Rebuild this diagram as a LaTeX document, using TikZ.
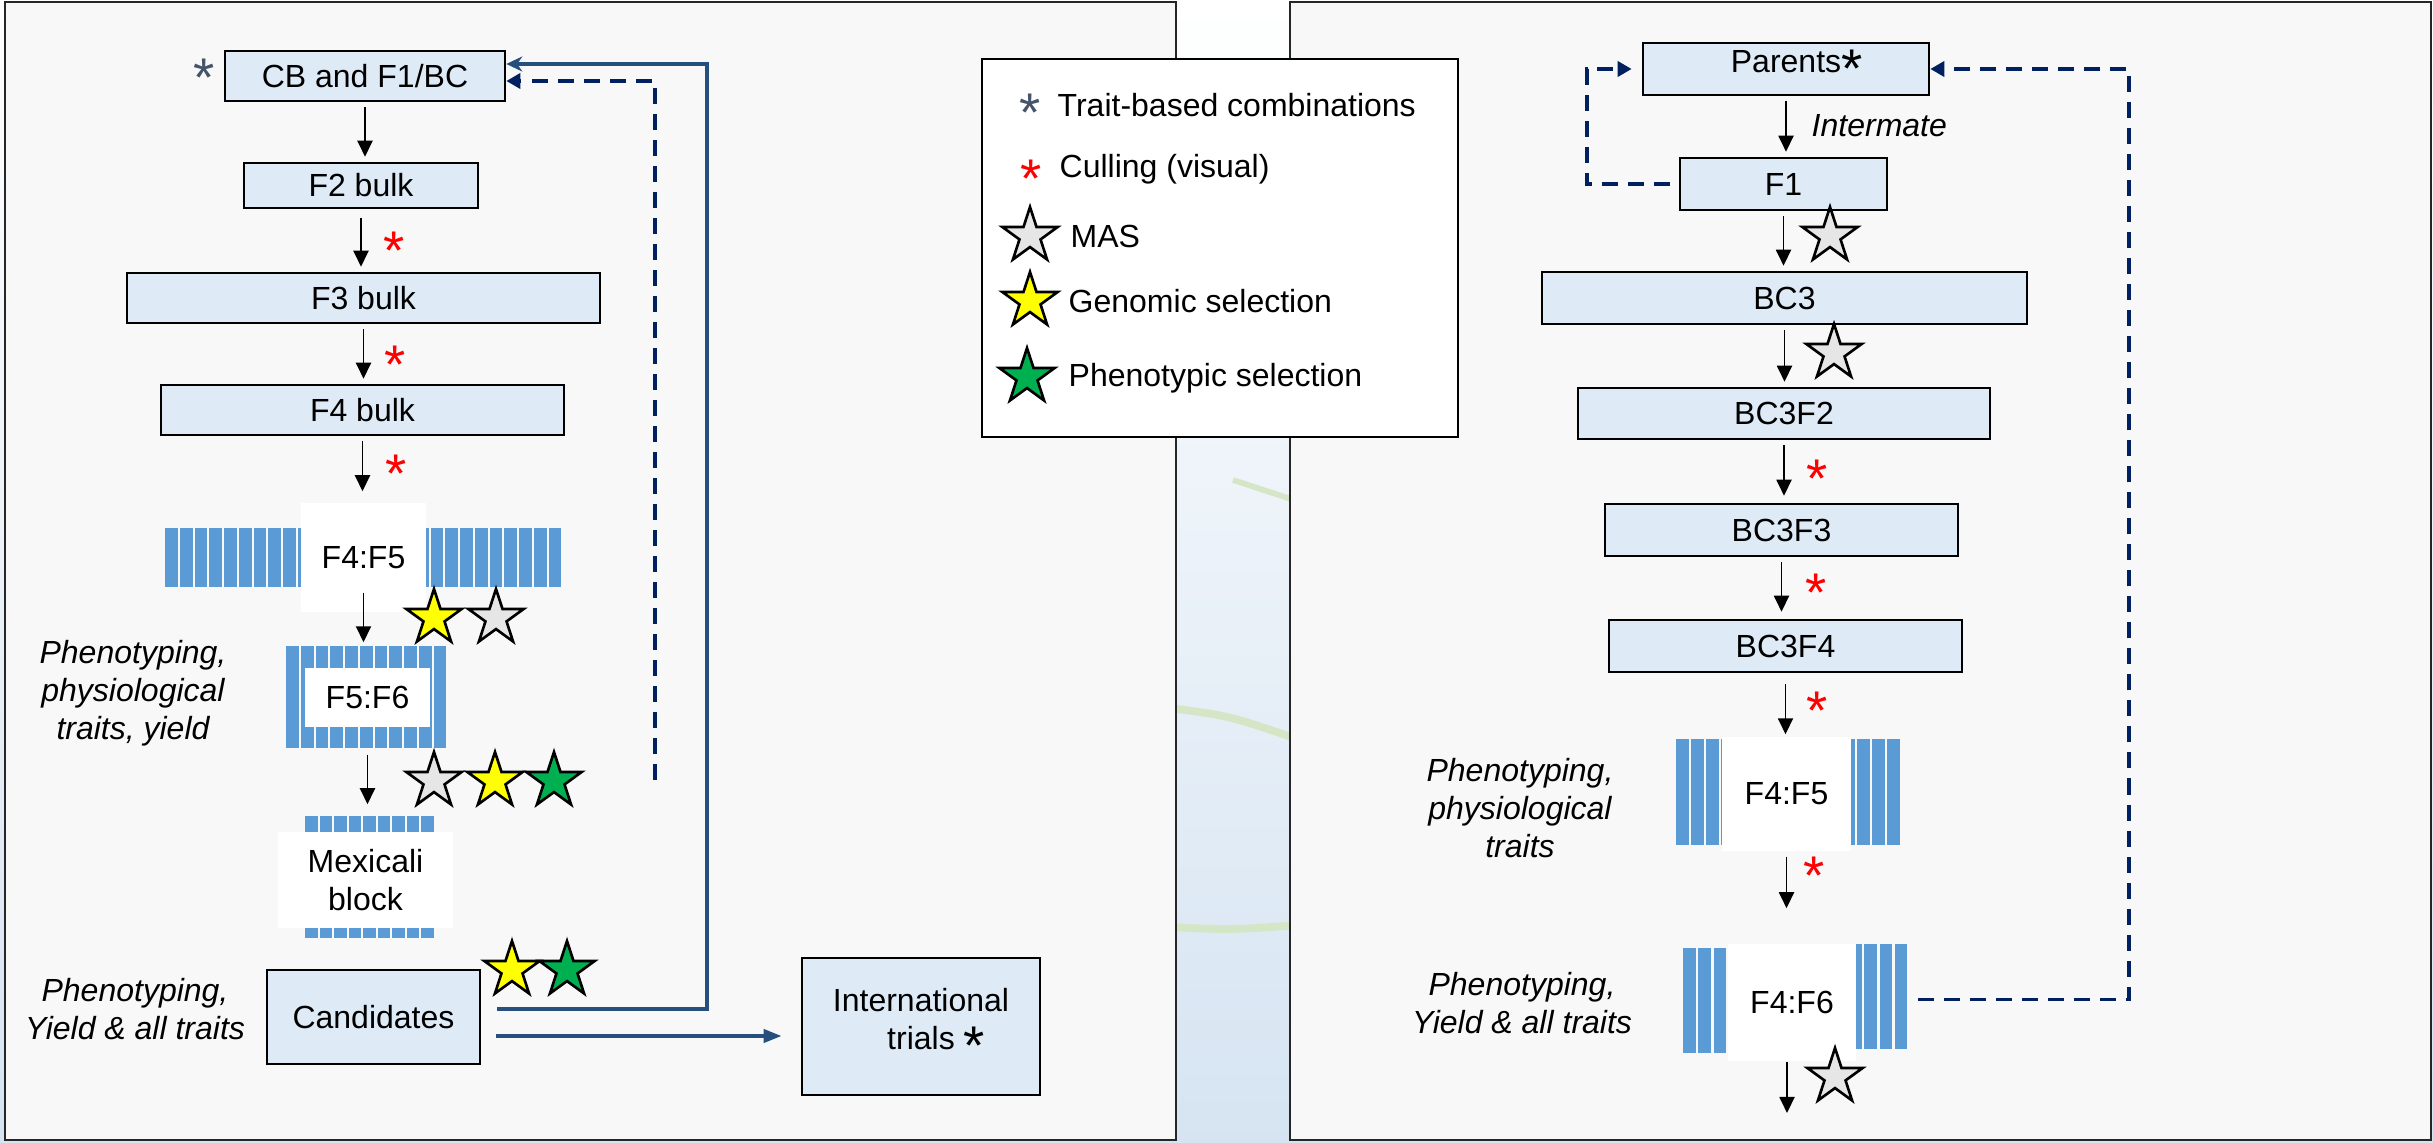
\documentclass[tikz,border=0pt]{standalone}
\usepackage{fontspec}
\setmainfont{Liberation Sans}
\usetikzlibrary{arrows.meta,shapes.geometric}

\definecolor{boxblue}{RGB}{222,235,247}
\definecolor{barblue}{RGB}{91,155,213}
\definecolor{navyfb}{RGB}{0,32,96}
\definecolor{steelfb}{RGB}{37,80,126}
\definecolor{panelbg}{RGB}{248,248,248}
\definecolor{slateast}{RGB}{68,84,106}
\definecolor{masgray}{RGB}{231,230,230}
\definecolor{gsyellow}{RGB}{255,255,0}
\definecolor{psgreen}{RGB}{0,176,80}
\definecolor{grass}{RGB}{212,230,198}
\definecolor{skylow}{RGB}{214,228,242}

\newcommand{\lblfont}{\fontsize{9.1}{10.8}\selectfont}
\newcommand{\astfont}{\fontsize{15.5}{15.5}\selectfont}
\newcommand{\bigast}{\raisebox{-0.15cm}{\astfont *}}

\tikzset{
  gbox/.style={draw=black, line width=0.7pt, fill=boxblue, font=\lblfont, inner sep=0pt, minimum height=0.52cm},
  wbox/.style={fill=white, font=\lblfont, inner sep=0pt, align=center},
  note/.style={font=\lblfont\itshape, align=center, inner sep=0pt},
  legtxt/.style={font=\lblfont, anchor=base west, inner sep=0pt},
  arr/.style={-{Triangle[length=0.16cm,width=0.15cm]}, line width=0.55pt, shorten <=0.05cm, shorten >=0.05cm},
  dfb/.style={navyfb, line width=1.1pt, dash pattern=on 0.16cm off 0.1cm, -{Triangle[length=0.14cm,width=0.15cm]}},
  sfb/.style={steelfb, line width=1.1pt},
  bar/.style={fill=barblue},
  panel/.style={fill=panelbg, draw=black!85, line width=0.7pt},
  cull/.style={text=red, font=\astfont, inner sep=0pt, text height=0.72em, text depth=0pt, yshift=-0.135cm},
  trait/.style={cull, text=slateast},
  selstar/.style={star, star points=5, star point ratio=2.618, draw=black, line width=0.75pt, inner sep=0pt, minimum size=0.58cm},
  mas/.style={selstar, fill=masgray},
  gs/.style={selstar, fill=gsyellow},
  ps/.style={selstar, fill=psgreen},
}

\begin{document}
\begin{tikzpicture}[x=0.01cm, y=-0.01cm]
  \useasboundingbox (0,0) rectangle (2433,1143);
  \fill[top color=white, bottom color=skylow] (0,0) rectangle (2433,1143);
  \draw[grass, line width=1.6pt] (1233,480) -- (1300,502);
  \draw[grass, line width=2.2pt] (1170,708) .. controls (1230,716) .. (1300,740);
  \draw[grass, line width=2.2pt] (1170,927) .. controls (1230,930) .. (1300,925);

  % the two schemes
  \draw[panel] (5,2) rectangle (1176,1140);
  \draw[panel] (1290,2) rectangle (2431,1140);

  % ---- left: bulk scheme
  \node[gbox, minimum width=2.8cm, minimum height=0.5cm] (cb) at (365,76) {CB and F1/BC};
  \node[trait] (cbast) at (204,70) {*};
  \node[gbox, minimum width=2.34cm, minimum height=0.45cm] (f2) at (361,185.5) {F2 bulk};
  \node[gbox, minimum width=4.73cm, minimum height=0.5cm] (f3) at (363.5,298) {F3 bulk};
  \node[gbox, minimum width=4.03cm, minimum height=0.5cm] (f4) at (362.5,410) {F4 bulk};

  \foreach \i in {0,...,26}
    \fill[bar] ({165+14.75*\i},528) rectangle ++(12.8,59);
  \node[wbox, minimum width=1.25cm, minimum height=1.09cm] (f45) at (363.5,557.5) {F4:F5};
  \foreach \i in {0,...,10}
    \fill[bar] ({286+14.75*\i},646) rectangle ++(12.8,102);
  \node[wbox, minimum width=1.25cm, minimum height=0.59cm] (f56) at (367.5,697.5) {F5:F6};
  \foreach \i in {0,...,8}
    \fill[bar] ({305+14.5*\i},816) rectangle ++(12.5,122);
  \node[wbox, minimum width=1.75cm, minimum height=0.96cm] (mex) at (365.5,880) {Mexicali\\block};
  \node[gbox, minimum width=2.13cm, minimum height=0.94cm] (cand) at (373.5,1017) {Candidates};
  \node[gbox, minimum width=2.38cm, minimum height=1.37cm, align=center] (intl) at (921,1026.5) {International\\trials\rlap{ \bigast}};

  \node[note] (phys1) at (133,693) {Phenotyping,\\physiological\\traits, yield};
  \node[note] (yld1) at (135,1009) {Phenotyping,\\Yield \& all traits};

  \draw[arr] (cb.south) -- (cb.south |- f2.north);
  \draw[arr, shorten <=0.09cm] (f2.south) -- (f2.south |- f3.north);
  \draw[arr] (f3.south) -- (f3.south |- f4.north);
  \draw[arr, shorten >=0.11cm] (f4.south) -- (f4.south |- f45.north);
  \draw[arr, shorten <=-0.2cm, shorten >=0.25cm] (f45.south) -- (f45.south |- f56.north);
  \draw[arr, shorten <=0.27cm, shorten >=0.27cm] (f56.south) -- (f56.south |- mex.north);

  \node[cull] (c1) at (394,243) {*};
  \node[cull] (c2) at (395,357) {*};
  \node[cull] (c3) at (396,466) {*};

  \node[gs] (s1) at (434,618) {};
  \node[mas] (s2) at (496,618) {};
  \node[mas] (s3) at (434,781) {};
  \node[gs] (s4) at (495,781) {};
  \node[ps] (s5) at (554,781) {};
  \node[gs] (s6) at (512,970) {};
  \node[ps] (s7) at (567,970) {};

  % recycling and release
  \coordinate (fbtop) at (707,64);
  \draw[sfb, -{Stealth[length=0.16cm,width=0.15cm]}] ([shift={(16,-8)}]cand.east) -| (fbtop) -- (fbtop -| cb.east);
  \coordinate (ia) at ([shift={(15,19)}]cand.east);
  \draw[sfb, -{Triangle[length=0.18cm,width=0.13cm]}, shorten >=0.19cm] (ia) -- (ia -| intl.west);
  \coordinate (dl) at (655,780);
  \draw[dfb] (dl) |- ([yshift=-0.05cm]cb.east);

  % ---- right: backcross scheme
  \node[gbox, minimum width=2.86cm] (par) at (1786,69) {Parents\rlap{\bigast}};
  \node[gbox, minimum width=2.07cm] (f1) at (1783.5,184) {F1};
  \node[gbox, minimum width=4.85cm] (bc3) at (1784.5,298) {BC3};
  \node[gbox, minimum width=4.12cm, minimum height=0.51cm] (bc3f2) at (1784,413.5) {BC3F2};
  \node[gbox, minimum width=3.53cm] (bc3f3) at (1781.5,530) {BC3F3};
  \node[gbox, minimum width=3.53cm] (bc3f4) at (1785.5,646) {BC3F4};

  \foreach \i in {0,...,14}
    \fill[bar] ({1676+15.07*\i},739) rectangle ++(13,106);
  \node[wbox, minimum width=1.29cm, minimum height=1.14cm] (rf45) at (1786.5,794) {F4:F5};
  \foreach \i in {0,...,3} {
    \fill[bar] ({1683+15.3*\i},948) rectangle ++(12.5,105);
    \fill[bar] ({1849+15.3*\i},944) rectangle ++(12.5,105);
  }
  \node[wbox, minimum width=1.28cm, minimum height=1.17cm] (rf46) at (1792,1002.5) {F4:F6};
  \coordinate (rend) at (1787,1113);

  \node[note, anchor=west] (inter) at (1811,126) {Intermate};
  \node[note] (phys2) at (1520,808) {Phenotyping,\\physiological\\traits};
  \node[note] (yld2) at (1522,1003) {Phenotyping,\\Yield \& all traits};

  \draw[arr] (par.south) -- (par.south |- f1.north);
  \draw[arr] (f1.south) -- (f1.south |- bc3.north);
  \draw[arr] (bc3.south) -- (bc3.south |- bc3f2.north);
  \draw[arr, shorten >=0.07cm] (bc3f2.south) -- (bc3f2.south |- bc3f3.north);
  \draw[arr, shorten >=0.07cm] (bc3f3.south) -- (bc3f3.south |- bc3f4.north);
  \draw[arr, shorten <=0.11cm, shorten >=0.02cm] (bc3f4.south) -- (bc3f4.south |- rf45.north);
  \draw[arr, shorten >=0.35cm] (rf45.south) -- (rf45.south |- rf46.north);
  \draw[arr, shorten <=0cm, shorten >=0cm] (rf46.south -| rend) -- (rend);

  \node[mas] (s8) at (1830,236) {};
  \node[mas] (s9) at (1834,353) {};
  \node[mas] (s10) at (1835,1077) {};
  \node[cull] (c4) at (1817,471) {*};
  \node[cull] (c5) at (1816,585) {*};
  \node[cull] (c6) at (1817,703) {*};
  \node[cull] (c7) at (1814,868) {*};

  \coordinate (rr) at (2129,69);
  \draw[dfb] ([shift={(61,-3)}]rf46.east) -| (rr) -- (par.east);
  \coordinate (rl) at (1587,69);
  \draw[dfb, shorten >=0.1cm] ([xshift=-0.09cm]f1.west) -| (rl) -- (rl -| par.west);

  % ---- legend
  \node[draw=black, line width=0.7pt, fill=white, minimum width=4.76cm, minimum height=3.78cm, inner sep=0pt] (legend) at (1220,248) {};
  \node[trait] (la) at (1030,105) {*};
  \node[legtxt] (lat) at (1057,117) {Trait-based combinations};
  \node[cull] (lb) at (1031,171) {*};
  \node[legtxt] (lbt) at (1059,178) {Culling (visual)};
  \node[mas] (lc) at (1030,236) {};
  \node[legtxt] (lct) at (1070,248) {MAS};
  \node[gs] (ld) at (1030,301) {};
  \node[legtxt] (ldt) at (1068,313) {Genomic selection};
  \node[ps] (le) at (1027,377) {};
  \node[legtxt] (let) at (1068,387) {Phenotypic selection};
\end{tikzpicture}
\end{document}
